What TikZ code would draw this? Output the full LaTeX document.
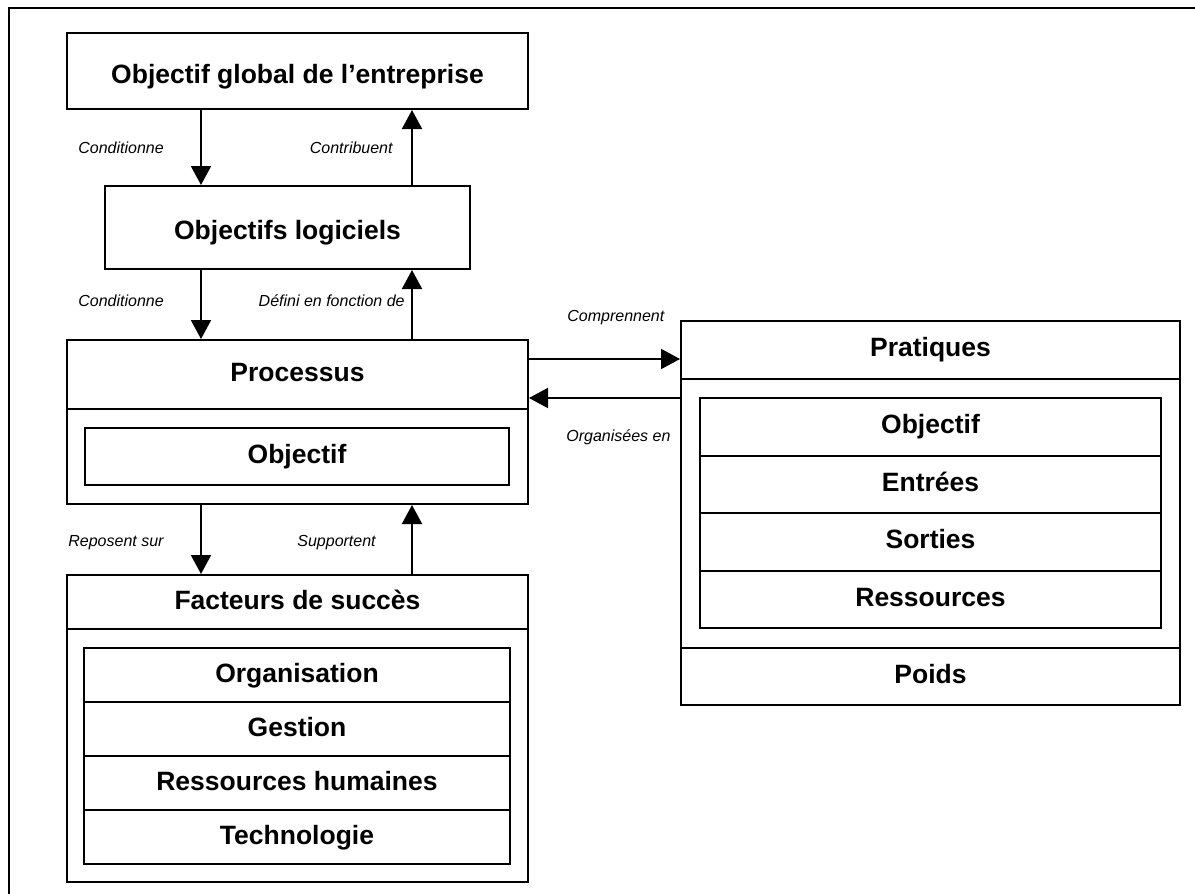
\documentclass[tikz,border=0pt]{standalone}
\usepackage{fontspec}
\setmainfont{Liberation Sans}
\usetikzlibrary{arrows.meta}
\tikzset{
	titre/.style={inner sep=0pt, text height=0.716em, text depth=0pt, font=\fontsize{13.25}{16}\selectfont\bfseries},
	cadre/.style={titre, draw, line width=1pt},
	ligne/.style={cadre, minimum height=27pt},
	lien/.style={line width=1pt, -{Triangle[length=9.5pt,width=10pt]}},
	etiq/.style={inner sep=0pt, font=\fontsize{8}{10}\selectfont\itshape},
}

\begin{document}
\begin{tikzpicture}[x=0.5pt,y=-0.5pt]
	\useasboundingbox (0,0) rectangle (1195,894);
	\draw[line width=1pt] (9,894) -- (9,8) -- (1195,8);
	% colonnes des fleches
	\coordinate (cg) at (201,0);
	\coordinate (cd) at (412,0);
	\coordinate (hc) at (0,359);
	\coordinate (ho) at (0,398);
	% boites de gauche
	\node[cadre, minimum width=230.5pt, minimum height=38pt, text height=0.716em+5pt]   (glob) at (297.5,71)    {Objectif global de l’entreprise};
	\node[cadre, minimum width=182.5pt, minimum height=41.5pt, text height=0.716em+4.5pt] (logi) at (287.5,227.5) {Objectifs logiciels};
	\node[cadre, minimum width=230.5pt, minimum height=82pt]   (proc) at (297.5,422)   {};
	\node[titre]                                               (proct) at (297.5,374.5) {Processus};
	\draw[line width=1pt] (proc.west |- 0,409) -- (proc.east |- 0,409);
	\node[cadre, minimum width=212pt, minimum height=28.5pt]   (pobj) at (297,456.5)   {Objectif};
	\node[cadre, minimum width=230.5pt, minimum height=153.5pt] (fact) at (297.5,728.5) {};
	\node[titre]                                               (factt) at (297.5,602)  {Facteurs de succès};
	\draw[line width=1pt] (fact.west |- 0,629) -- (fact.east |- 0,629);
	\foreach \txt [count=\i] in {Organisation,Gestion,Ressources humaines,Technologie}
		\node[ligne, minimum width=213pt] (fac\i) at (297,621+54*\i) {\txt};
	% boite de droite
	\node[cadre, minimum width=249.5pt, minimum height=192pt]  (prat) at (930.5,513)   {};
	\node[titre]                                               (pratt) at (930.5,349)  {Pratiques};
	\draw[line width=1pt] (prat.west |- 0,379) -- (prat.east |- 0,379);
	\foreach \txt [count=\i] in {Objectif,Entrées,Sorties,Ressources}
		\node[ligne, minimum width=230.5pt, minimum height=28.75pt] (pra\i) at (930.5,369.25+57.5*\i) {\txt};
	\draw[line width=1pt] (prat.west |- 0,648) -- (prat.east |- 0,648);
	\node[titre]                                               (poids) at (930.5,676) {Poids};
	% liens
	\draw[lien] (glob.south -| cg) -- (logi.north -| cg);
	\draw[lien] (logi.north -| cd) -- (glob.south -| cd);
	\draw[lien] (logi.south -| cg) -- (proc.north -| cg);
	\draw[lien] (proc.north -| cd) -- (logi.south -| cd);
	\draw[lien] (proc.south -| cg) -- (fact.north -| cg);
	\draw[lien] (fact.north -| cd) -- (proc.south -| cd);
	\draw[lien] (proc.east |- hc) -- (prat.west |- hc);
	\draw[lien] (prat.west |- ho) -- (proc.east |- ho);
	\node[etiq, anchor=west] (e1) at (78,148)  {Conditionne};
	\node[etiq, anchor=east] (e2) at (393,148) {Contribuent};
	\node[etiq, anchor=west] (e3) at (78,301)  {Conditionne};
	\node[etiq, anchor=east] (e4) at (405,301) {Défini en fonction de};
	\node[etiq, anchor=west] (e5) at (68,543)  {Reposent sur};
	\node[etiq, anchor=west] (e6) at (297,543) {Supportent};
	\node[etiq, anchor=west] (e7) at (567,318) {Comprennent};
	\node[etiq, anchor=west] (e8) at (566,437) {Organisées en};
\end{tikzpicture}
\end{document}
